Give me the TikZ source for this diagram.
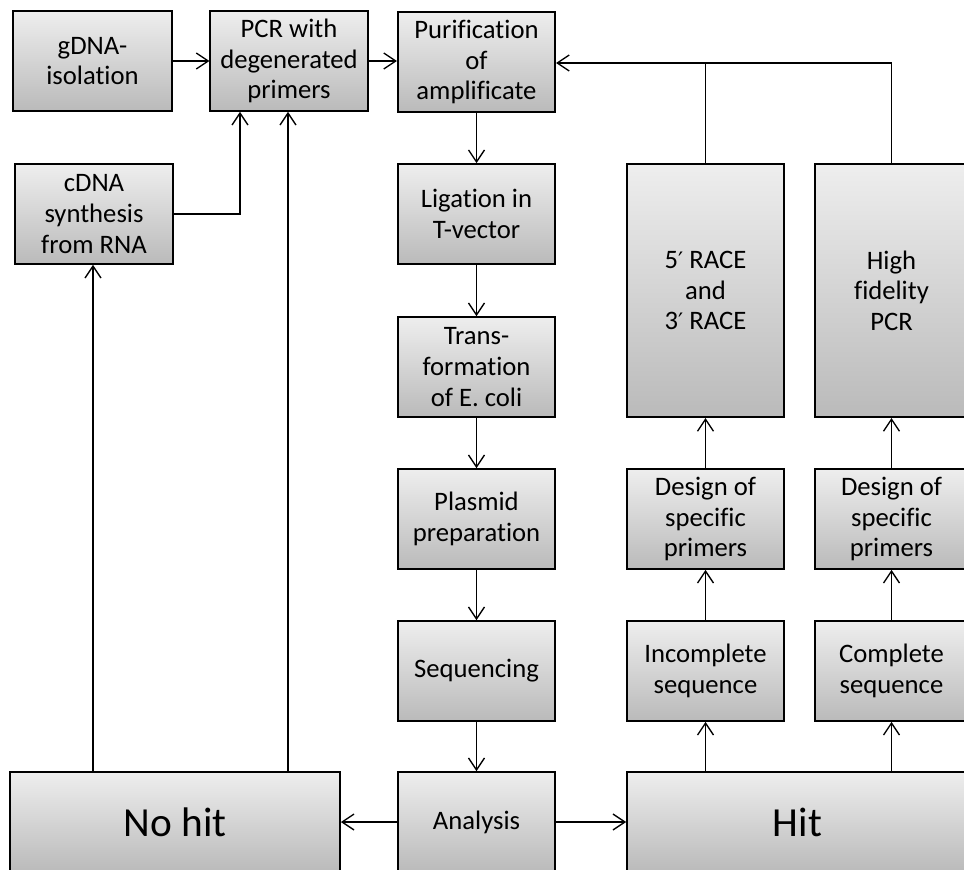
\documentclass[tikz,border=0pt]{standalone}
\usepackage{fontspec}
\setmainfont{Carlito}[Ligatures=NoCommon]
\newfontfamily\primefont{DejaVu Sans}
\usetikzlibrary{arrows.meta}
\definecolor{boxtop}{RGB}{238,238,238}
\definecolor{boxbot}{RGB}{186,186,186}
\newcommand{\pr}{{\primefont\fontsize{17}{23}\selectfont ′}}
\begin{document}
\begin{tikzpicture}[x=0.75pt,y=-0.75pt,
  box/.style={draw=black, line width=1.3pt, top color=boxtop, bottom color=boxbot,
    minimum width=118pt, minimum height=75pt, inner sep=0pt, align=center,
    font=\fontsize{20}{23}\selectfont},
  bigbox/.style={box, font=\fontsize{31}{36}\selectfont},
  arr/.style={line width=1pt, -{Straight Barb[length=9pt,width=12pt,line width=1pt]}},
  ln/.style={line width=1pt}]
\fill[white] (0,0) rectangle (964,870);
\useasboundingbox (0,0) rectangle (964,870);

% row 1
\node[box, minimum width=119pt] (gdna) at (92.5,61) {gDNA-\\isolation};
\node[box] (pcr) at (289,61) {PCR with\\degenerated\\primers};
\node[box] (pur) at (476.5,62) {Purification\\of\\amplificate};
% row 2
\node[box] (cdna) at (94,214) {cDNA\\synthesis\\from RNA};
\node[box] (lig) at (476.5,214) {Ligation in\\T-vector};
\node[box, minimum height=190pt] (race) at (705.5,290.5) {5\pr{} RACE\\and\\3\pr{} RACE};
\node[box, minimum width=115pt, minimum height=190pt] (hf) at (891.5,290.5) {High\\fidelity\\PCR};
% row 3
\node[box] (trans) at (476.5,367) {Trans-\\formation\\of E. coli};
% row 4
\node[box] (plas) at (476.5,519) {Plasmid\\preparation};
\node[box] (des1) at (705.5,519) {Design of\\specific\\primers};
\node[box, minimum width=115pt] (des2) at (891.5,519) {Design of\\specific\\primers};
% row 5
\node[box] (seq) at (476.5,671) {Sequencing};
\node[box] (inc) at (705.5,671) {Incomplete\\sequence};
\node[box, minimum width=115pt] (comp) at (891.5,671) {Complete\\sequence};
% row 6
\node[bigbox, minimum width=247.5pt] (nohit) at (175,822) {No hit};
\node[box] (ana) at (476.5,822) {Analysis};
\node[bigbox, minimum width=255.75pt] (hit) at (797.5,822) {Hit};

% connectors
\draw[arr] (gdna.east) -- (pcr.west |- gdna.east);
\draw[arr] (pcr.east) -- (pur.west |- pcr.east);
\draw[arr] (cdna.east) -| (240,0 |- pcr.south);
\coordinate (nh1) at (93,0 |- nohit.north);
\coordinate (nh2) at (288,0 |- nohit.north);
\draw[arr] (nh1) -- (nh1 |- cdna.south);
\draw[arr] (nh2) -- (nh2 |- pcr.south);
\draw[arr] (pur) -- (lig);
\draw[arr] (lig) -- (trans);
\draw[arr] (trans) -- (plas);
\draw[arr] (plas) -- (seq);
\draw[arr] (seq) -- (ana);
\draw[arr] (ana.west) -- (nohit.east |- ana.west);
\draw[arr] (ana.east) -- (hit.west |- ana.east);
\draw[arr] (inc.south |- hit.north) -- (inc.south);
\draw[arr] (comp.south |- hit.north) -- (comp.south);
\draw[arr] (inc) -- (des1);
\draw[arr] (comp) -- (des2);
\draw[arr] (des1) -- (race);
\draw[arr] (des2) -- (hf);
\coordinate (top) at (0,63);
\draw[arr] (hf.north) |- (pur.east |- top);
\draw[ln] (race.north) -- (race.north |- top);
\end{tikzpicture}
\end{document}
